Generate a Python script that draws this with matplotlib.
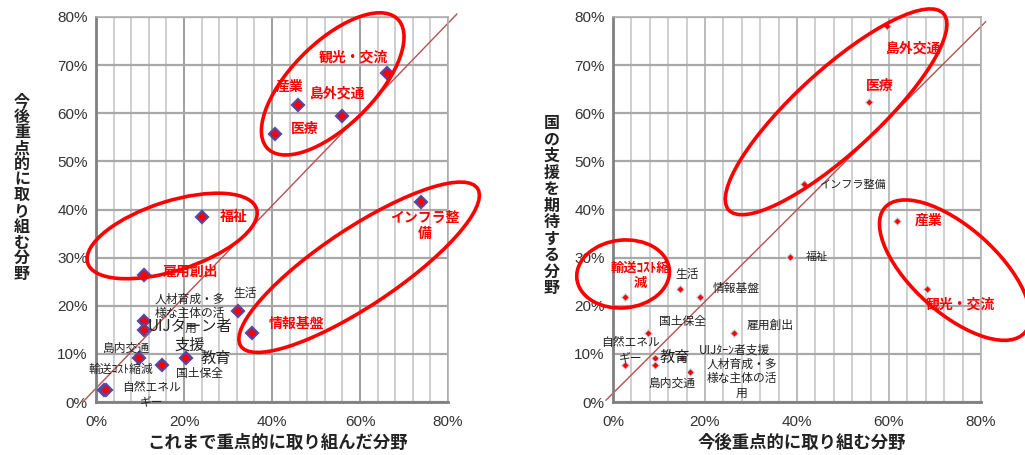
import matplotlib
matplotlib.use("Agg")
import matplotlib.pyplot as plt
from matplotlib.patches import Ellipse
from matplotlib.ticker import MultipleLocator, FuncFormatter

plt.rcParams['font.family'] = ['Noto Sans CJK JP', 'DejaVu Sans']

# ---- data: left chart (x = これまで, y = 今後) ----
fields = ["観光・交流", "産業", "島外交通", "医療", "インフラ整備", "福祉", "雇用創出",
          "生活", "情報基盤", "人材育成・多様な主体の活用", "UIJターン者支援",
          "島内交通", "輸送コスト縮減", "教育", "国土保全", "自然エネルギー"]
past = [66.1, 46.0, 55.8, 40.7, 73.8, 24.2, 10.8, 32.3, 35.5, 10.8, 20.4,
        9.85, 1.8, 10.8, 15.1, 2.3]
future = [68.4, 61.7, 59.4, 55.6, 41.5, 38.4, 26.4, 19.0, 14.4, 16.8, 9.2,
          9.2, 2.5, 15.0, 7.7, 2.5]

# ---- data: right chart (x = 今後, y = 国の支援) ----
future_r = [68.3, 61.7, 59.6, 55.7, 41.5, 38.5, 26.4, 14.5, 19.0, 16.7, 9.2,
            9.2, 2.5, 15.0, 7.6, 2.5]
support = [23.4, 37.7, 78.1, 62.4, 45.3, 30.2, 14.4, 23.4, 21.9, 6.2, 9.2,
           7.7, 21.9, 9.2, 14.4, 7.7]

# label layout: (text, x, y, red?, size)
left_labels = [
    ("観光・交流", 58.4, 71.5, True, 10),
    ("産業", 43.9, 65.5, True, 10),
    ("島外交通", 55.0, 64.0, True, 10),
    ("医療", 47.5, 56.7, True, 10),
    ("インフラ整\n備", 74.8, 36.6, True, 10),
    ("福祉", 31.2, 38.4, True, 10),
    ("雇用創出", 21.4, 27.0, True, 10),
    ("生活", 33.9, 22.6, False, 8.5),
    ("情報基盤", 45.6, 16.2, True, 10),
    ("人材育成・多\n様な主体の活\n用", 21.4, 18.3, False, 8.5),
    ("UIJターン者\n支援", 21.3, 13.8, False, 11),
    ("教育", 27.3, 9.1, False, 11),
    ("国土保全", 23.5, 6.0, False, 8.5),
    ("島内交通", 6.8, 11.2, False, 8.5),
    ("輸送ｺｽﾄ縮減", 5.6, 6.8, False, 8.5),
    ("自然エネル\nギー", 12.7, 1.6, False, 8.5),
]
right_labels = [
    ("島外交通", 65.4, 73.5, True, 10),
    ("医療", 58.0, 65.7, True, 10),
    ("インフラ整備", 52.0, 45.1, False, 8),
    ("産業", 68.6, 37.7, True, 10),
    ("福祉", 44.3, 30.1, False, 8),
    ("観光・交流", 75.4, 20.2, True, 10),
    ("輸送ｺｽﾄ縮\n減", 6.0, 26.3, True, 9.5),
    ("生活", 16.1, 26.4, False, 8.5),
    ("情報基盤", 26.7, 23.5, False, 8.5),
    ("国土保全", 15.1, 16.7, False, 8.5),
    ("雇用創出", 34.1, 16.0, False, 8.5),
    ("自然エネル\nギー", 3.8, 10.8, False, 8.5),
    ("教育", 13.5, 9.3, False, 11),
    ("UIJﾀｰﾝ者支援", 26.5, 10.8, False, 8.5),
    ("人材育成・多\n様な主体の活\n用", 28.0, 4.9, False, 8.5),
    ("島内交通", 13.0, 4.0, False, 8.5),
]

# ellipses: (cx, cy, width, height, angle)
left_ellipses = [(53.8, 66.1, 40.0, 18.0, 41), (17.3, 34.5, 40.0, 14.5, 16),
                 (59.8, 28.0, 63.0, 16.5, 31)]
right_ellipses = [(48.5, 60.3, 62.0, 17.5, 41), (2.2, 26.6, 20.2, 14.1, 5),
                  (74.3, 27.4, 40.0, 18.0, -40)]

fig = plt.figure(figsize=(10.25, 4.55), dpi=100)
ax1 = fig.add_axes([96 / 1025, 53 / 455, 352 / 1025, 385 / 455])
ax2 = fig.add_axes([613 / 1025, 53 / 455, 368 / 1025, 385 / 455])


def style_axes(ax, major_dark):
    ax.set_xlim(0, 80)
    ax.set_ylim(0, 80)
    ax.xaxis.set_major_locator(MultipleLocator(20))
    ax.xaxis.set_minor_locator(MultipleLocator(4))
    ax.yaxis.set_major_locator(MultipleLocator(10))
    fmt = FuncFormatter(lambda v, p: "%d%%" % round(v))
    ax.xaxis.set_major_formatter(fmt)
    ax.yaxis.set_major_formatter(fmt)
    ax.grid(which='minor', axis='x', color='#cccccc', lw=1.3)
    ax.grid(which='major', axis='x', color=major_dark, lw=1.1)
    ax.grid(which='major', axis='y', color='#a8a8a8', lw=1.6)
    ax.set_axisbelow(True)
    ax.tick_params(which='both', length=0)
    ax.tick_params(axis='x', pad=9)
    ax.tick_params(axis='y', pad=6)
    for lab in ax.get_xticklabels() + ax.get_yticklabels():
        lab.set_fontfamily('Liberation Sans')
        lab.set_fontsize(11)
        lab.set_color('#333333')
    for s in ['top', 'right']:
        ax.spines[s].set_color('#b0b0b0')
        ax.spines[s].set_linewidth(1.2)
    for s in ['left', 'bottom']:
        ax.spines[s].set_color('#808080')
        ax.spines[s].set_linewidth(2)


style_axes(ax1, '#858585')
style_axes(ax2, '#aaaaaa')

# diagonal reference lines
ax1.plot([-3, 82], [0, 80.6], color='#b85050', lw=1, clip_on=False, zorder=2)
ax2.plot([-1.5, 81], [0.4, 79], color='#b85050', lw=1, clip_on=False, zorder=2)

ax1.plot(past, future, 'D', ms=6.5, mfc='#ff0000', mec='#5548a8', mew=1.6,
         ls='none', zorder=4, clip_on=False)
ax2.plot(future_r, support, 'D', ms=4.5, mfc='#ff0000', mec='#c4e4ee', mew=0.9,
         ls='none', zorder=4, clip_on=False)

for ax, labels in [(ax1, left_labels), (ax2, right_labels)]:
    for txt, x, y, red, size in labels:
        ax.text(x, y, txt, ha='center', va='center', fontsize=size,
                color='#ff0000' if red else '#222222',
                fontweight='bold' if red else 'normal',
                linespacing=1.15, zorder=5, clip_on=False)

for ax, ells in [(ax1, left_ellipses), (ax2, right_ellipses)]:
    for cx, cy, w, h, ang in ells:
        ax.add_patch(Ellipse((cx, cy), w, h, angle=ang, fill=False,
                             ec='#ff0000', lw=2.6, clip_on=False, zorder=6))

# axis titles
fig.text(278 / 1025, 1 - 443 / 455, "これまで重点的に取り組んだ分野", ha='center',
         va='center', fontsize=12.5, fontweight='bold', color='#222222')
fig.text(802 / 1025, 1 - 443 / 455, "今後重点的に取り組む分野", ha='center',
         va='center', fontsize=12.5, fontweight='bold', color='#222222')

# vertical (stacked) y titles
for title, xc, y0, pitch in [("今後重点的に取り組む分野", 22, 101, 15.7),
                             ("国の支援を期待する分野", 552, 123, 16.5)]:
    for i, ch in enumerate(title):
        fig.text(xc / 1025, 1 - (y0 + i * pitch) / 455, ch, ha='center',
                 va='center', fontsize=11.5, fontweight='bold', color='#222222')

fig.savefig("out.png", dpi=100)
